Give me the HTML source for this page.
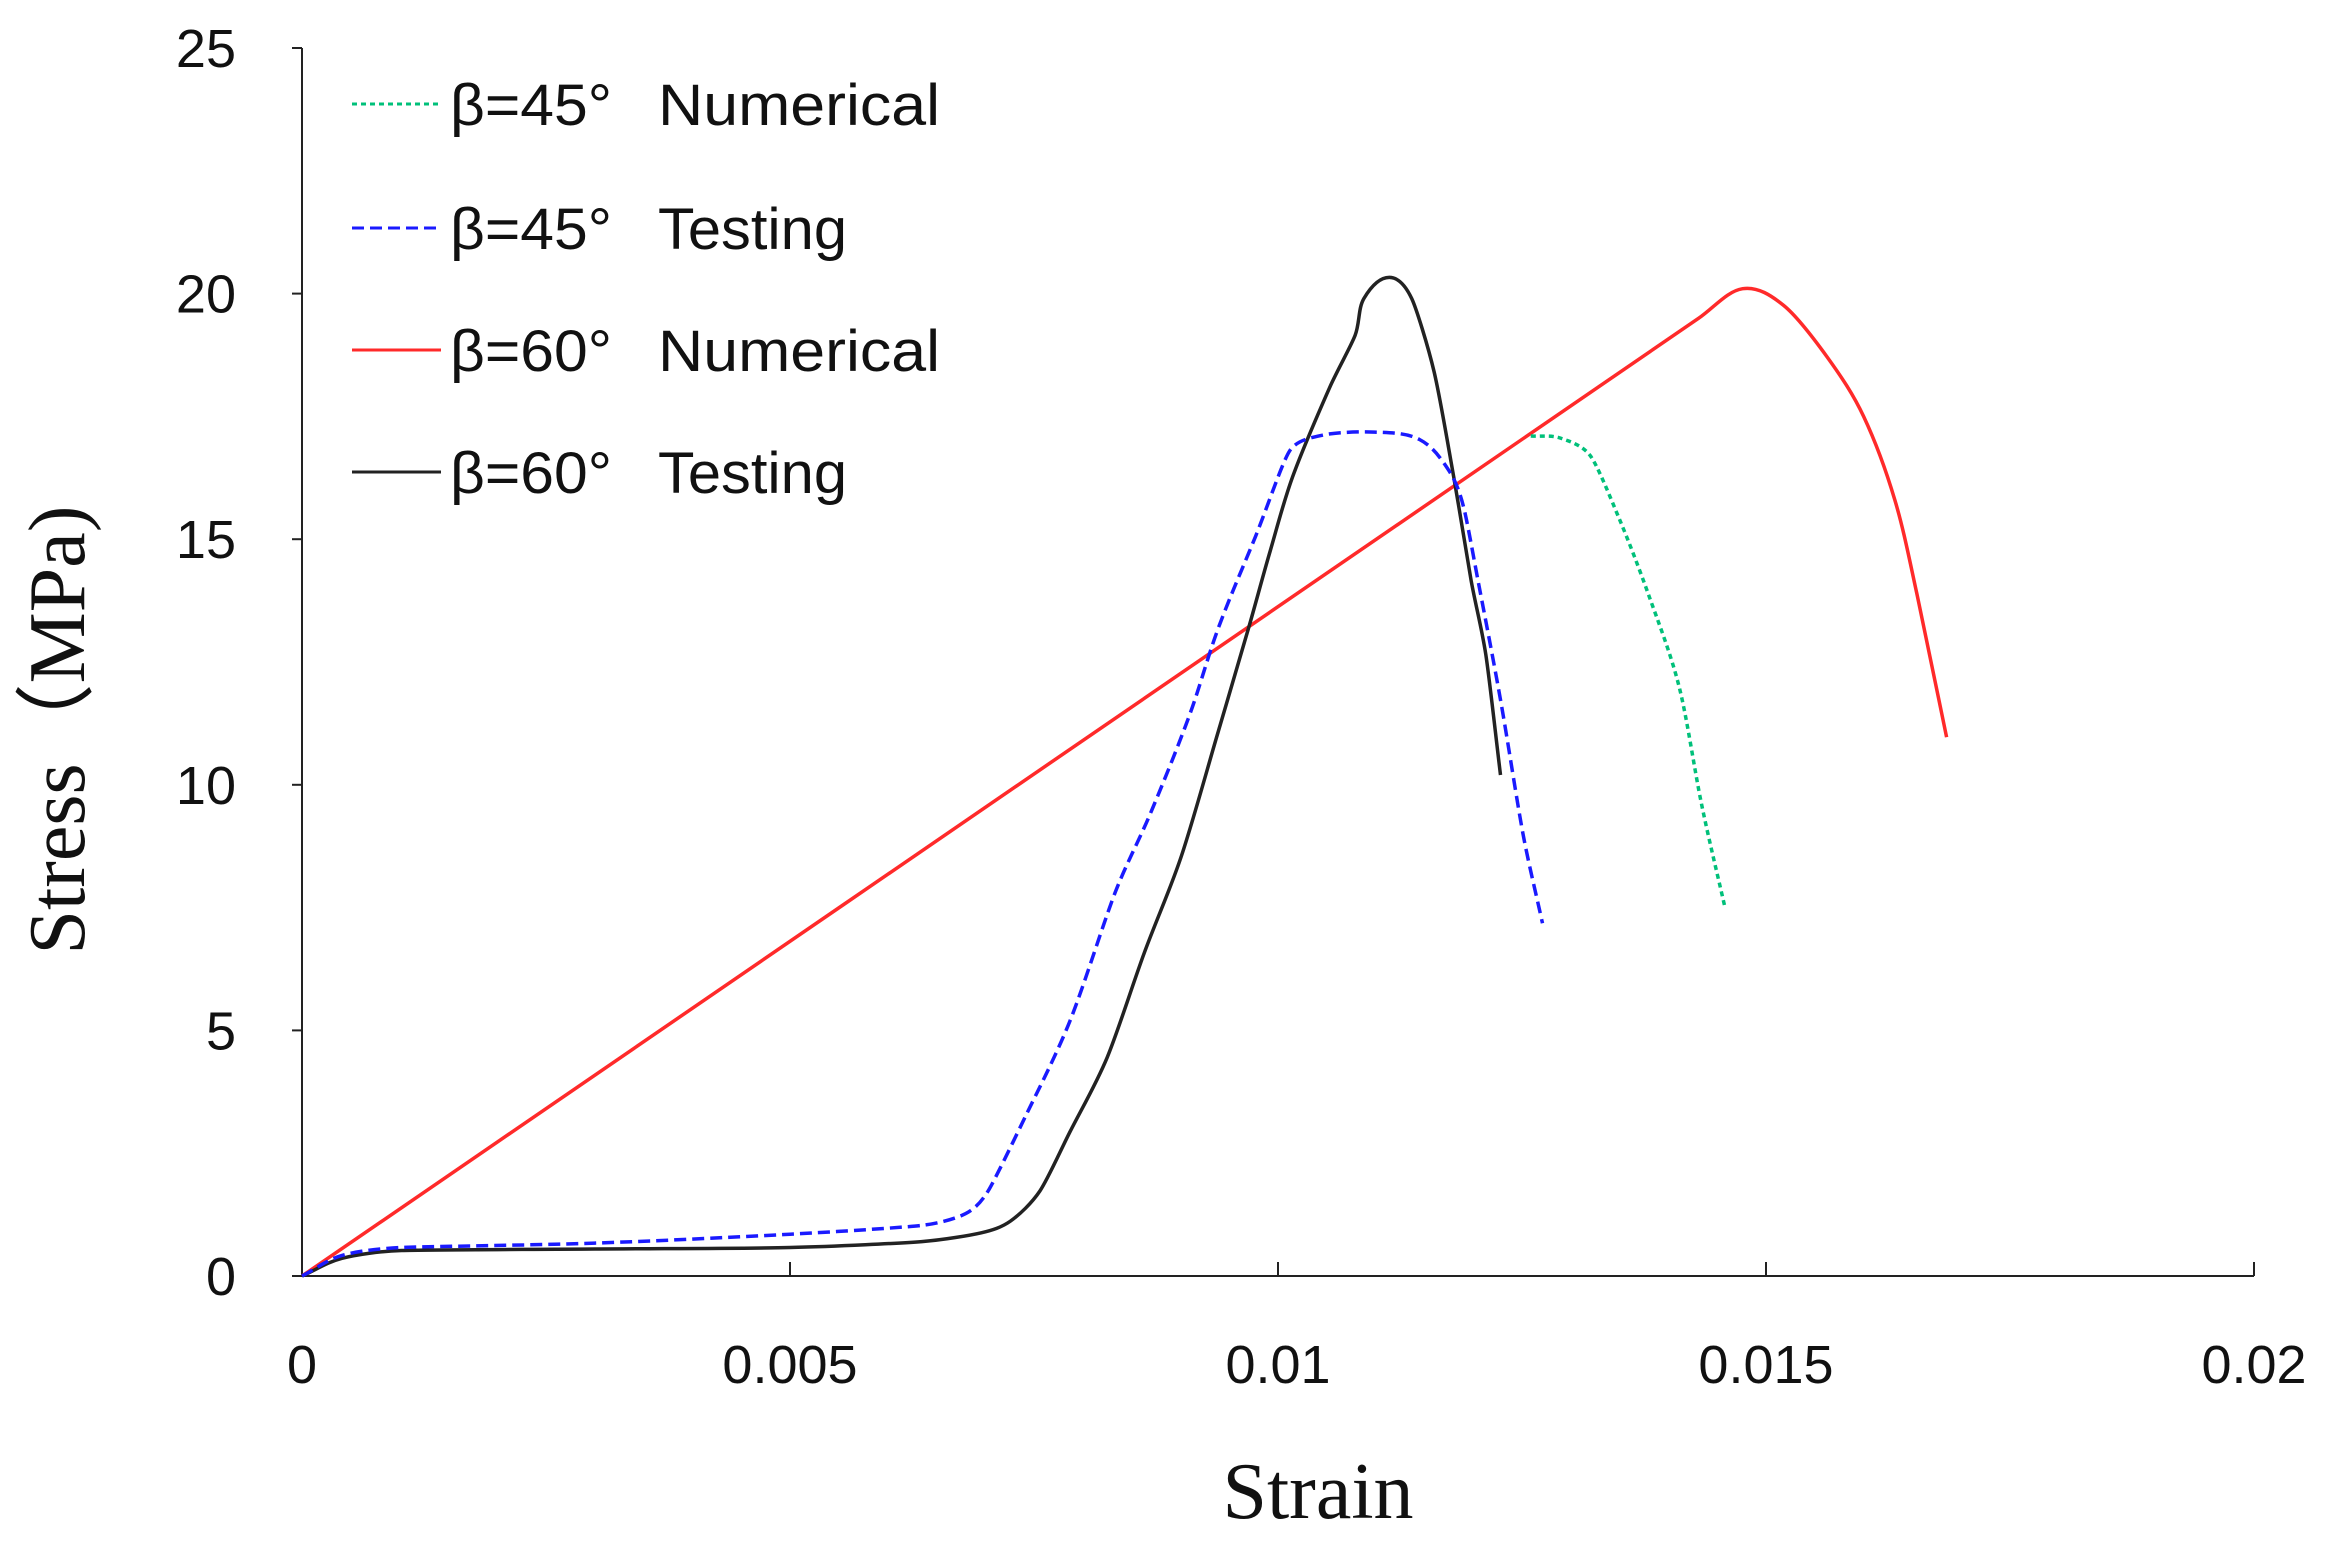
<!DOCTYPE html>
<html><head><meta charset="utf-8"><style>
html,body{margin:0;padding:0;background:#fff;}
svg{display:block;}
.tk{font-family:"Liberation Sans",sans-serif;font-size:54px;fill:#111;}
.lg{font-family:"Liberation Sans",sans-serif;font-size:58px;fill:#111;}
.ttl{font-family:"Liberation Serif",serif;font-size:80px;fill:#111;}
</style></head><body>
<svg id="chart" width="2330" height="1549" viewBox="0 0 2330 1549" xmlns="http://www.w3.org/2000/svg"></svg>
<script>
const xTicks=[0,0.005,0.01,0.015,0.02];
const xTickLabels=["0","0.005","0.01","0.015","0.02"];
const yTicks=[0,5,10,15,20,25];
const yTickLabels=["0","5","10","15","20","25"];
const red60NumX=[0,0.01431,0.01476,0.01518,0.01563,0.0160,0.01632,0.01655,0.01685];
const red60NumY=[0,19.5,20.1,19.76,18.7,17.5,15.8,13.85,10.97];
const green45NumX=[0.01259,0.01289,0.0132,0.0135,0.0138,0.01411,0.01434,0.01458];
const green45NumY=[17.1,17.06,16.7,15.4,13.85,12.0,9.6,7.5];
const blue45TestX=[0,0.00041,0.00102,0.003,0.005,0.00635,0.0068,0.00703,0.00741,0.00787,0.00833,0.0087,0.00909,0.00939,0.00977,0.01012,0.01046,0.01099,0.01145,0.01175,0.0119,0.01205,0.01228,0.01251,0.01271];
const blue45TestY=[0,0.42,0.58,0.67,0.85,1.03,1.27,1.73,3.24,5.2,7.8,9.45,11.4,13.2,15.06,16.8,17.12,17.18,17.03,16.4,15.67,14.15,11.73,9.0,7.18];
const black60TestX=[0,0.00041,0.00102,0.003,0.005,0.00635,0.00696,0.00726,0.00756,0.00787,0.00825,0.00863,0.00901,0.00939,0.0097,0.00992,0.01015,0.01053,0.01079,0.01088,0.01114,0.01137,0.0116,0.0118,0.01198,0.01213,0.01228];
const black60TestY=[0,0.36,0.52,0.55,0.58,0.7,0.88,1.12,1.73,2.94,4.45,6.58,8.55,11.1,13.2,14.76,16.27,18.09,19.15,19.9,20.33,19.9,18.4,16.27,14.15,12.64,10.2];

const NS="http://www.w3.org/2000/svg";
const svg=document.getElementById('chart');
const X0=302,X1=2254,Y0=1276,Y1=48;
const sx=v=>X0+(v-0)/(0.02)*(X1-X0);
const sy=v=>Y0-(v/25)*(Y0-Y1);
function el(t,a){const e=document.createElementNS(NS,t);for(const k in a)e.setAttribute(k,a[k]);svg.appendChild(e);return e;}

let e;
e=el('line',{x1:X0,y1:Y1,x2:X0,y2:Y0,stroke:'#222','stroke-width':2});


e=el('line',{x1:X0,y1:Y0,x2:X1,y2:Y0,stroke:'#222','stroke-width':2});



yTicks.forEach((v,i)=>{
  let t=el('line',{x1:X0-10,y1:sy(v),x2:X0,y2:sy(v),stroke:'#222','stroke-width':2});
  
  
  let l=el('text',{x:236,y:sy(v)+19,'text-anchor':'end',class:'tk'});
  l.textContent=yTickLabels[i];
  
  
});
xTicks.forEach((v,i)=>{
  let t=el('line',{x1:sx(v),y1:Y0,x2:sx(v),y2:Y0-14,stroke:'#222','stroke-width':2});
  
  
  let l=el('text',{x:sx(v),y:1383,'text-anchor':'middle',class:'tk'});
  l.textContent=xTickLabels[i];
  
  
});

function dist(a,b){return Math.hypot(b[0]-a[0],b[1]-a[1]);}
function series(xs,ys,color,dash,name){
  const P=xs.map((x,i)=>[sx(x),sy(ys[i])]);
  const n=P.length;
  const T=P.map((p,i)=>{
    const a=P[Math.max(0,i-1)],b=P[Math.min(n-1,i+1)];
    const L=dist(a,b)||1;return [(b[0]-a[0])/L,(b[1]-a[1])/L];
  });
  let d='M'+P[0][0].toFixed(1)+' '+P[0][1].toFixed(1);
  for(let i=0;i<n-1;i++){
    const p1=P[i],p2=P[i+1];
    const segL=dist(p1,p2);
    const prevL=i>0?dist(P[i-1],p1):segL;
    const nextL=i<n-2?dist(p2,P[i+2]):segL;
    const h1=Math.min(segL,prevL)*0.35, h2=Math.min(segL,nextL)*0.35;
    const c1=[p1[0]+T[i][0]*h1,p1[1]+T[i][1]*h1];
    const c2=[p2[0]-T[i+1][0]*h2,p2[1]-T[i+1][1]*h2];
    d+=' C'+c1[0].toFixed(1)+' '+c1[1].toFixed(1)+' '+c2[0].toFixed(1)+' '+c2[1].toFixed(1)+' '+p2[0].toFixed(1)+' '+p2[1].toFixed(1);
  }
  const p=el('path',{d:d,fill:'none',stroke:color,'stroke-width':3.5,'stroke-linejoin':'round'});
  if(dash)p.setAttribute('stroke-dasharray',dash);
  
  
}
series(red60NumX,red60NumY,'#ff2a2a',null,'series-beta60-numerical');
series(green45NumX,green45NumY,'#00c07a','5 4','series-beta45-numerical');
series(black60TestX,black60TestY,'#222',null,'series-beta60-testing');
series(blue45TestX,blue45TestY,'#1a1aff','12 6','series-beta45-testing');

const legend=[["β=45°","Numerical",282,'#00c07a','5 4',104],["β=45°","Testing",189,'#1a1aff','12 6',228],["β=60°","Numerical",282,'#ff2a2a',null,350],["β=60°","Testing",189,'#222',null,472]];
legend.forEach(L=>{
  let ln=el('line',{x1:352,y1:L[5],x2:441,y2:L[5],stroke:L[3],'stroke-width':3});
  if(L[4])ln.setAttribute('stroke-dasharray',L[4]);
  
  
  let t=el('text',{x:450,y:L[5]+21,class:'lg',textLength:162,lengthAdjust:'spacingAndGlyphs'});
  t.textContent=L[0];
  
  
  let t2=el('text',{x:658,y:L[5]+21,class:'lg',textLength:L[2],lengthAdjust:'spacingAndGlyphs'});
  t2.textContent=L[1];
  
  
});

e=el('text',{x:1318,y:1518,'text-anchor':'middle',class:'ttl'});
e.textContent='Strain';


e=el('text',{x:0,y:0,'text-anchor':'middle',class:'ttl',transform:'translate(84,730) rotate(-90)'});
e.textContent='Stress（MPa)';


</script>
</body></html>
